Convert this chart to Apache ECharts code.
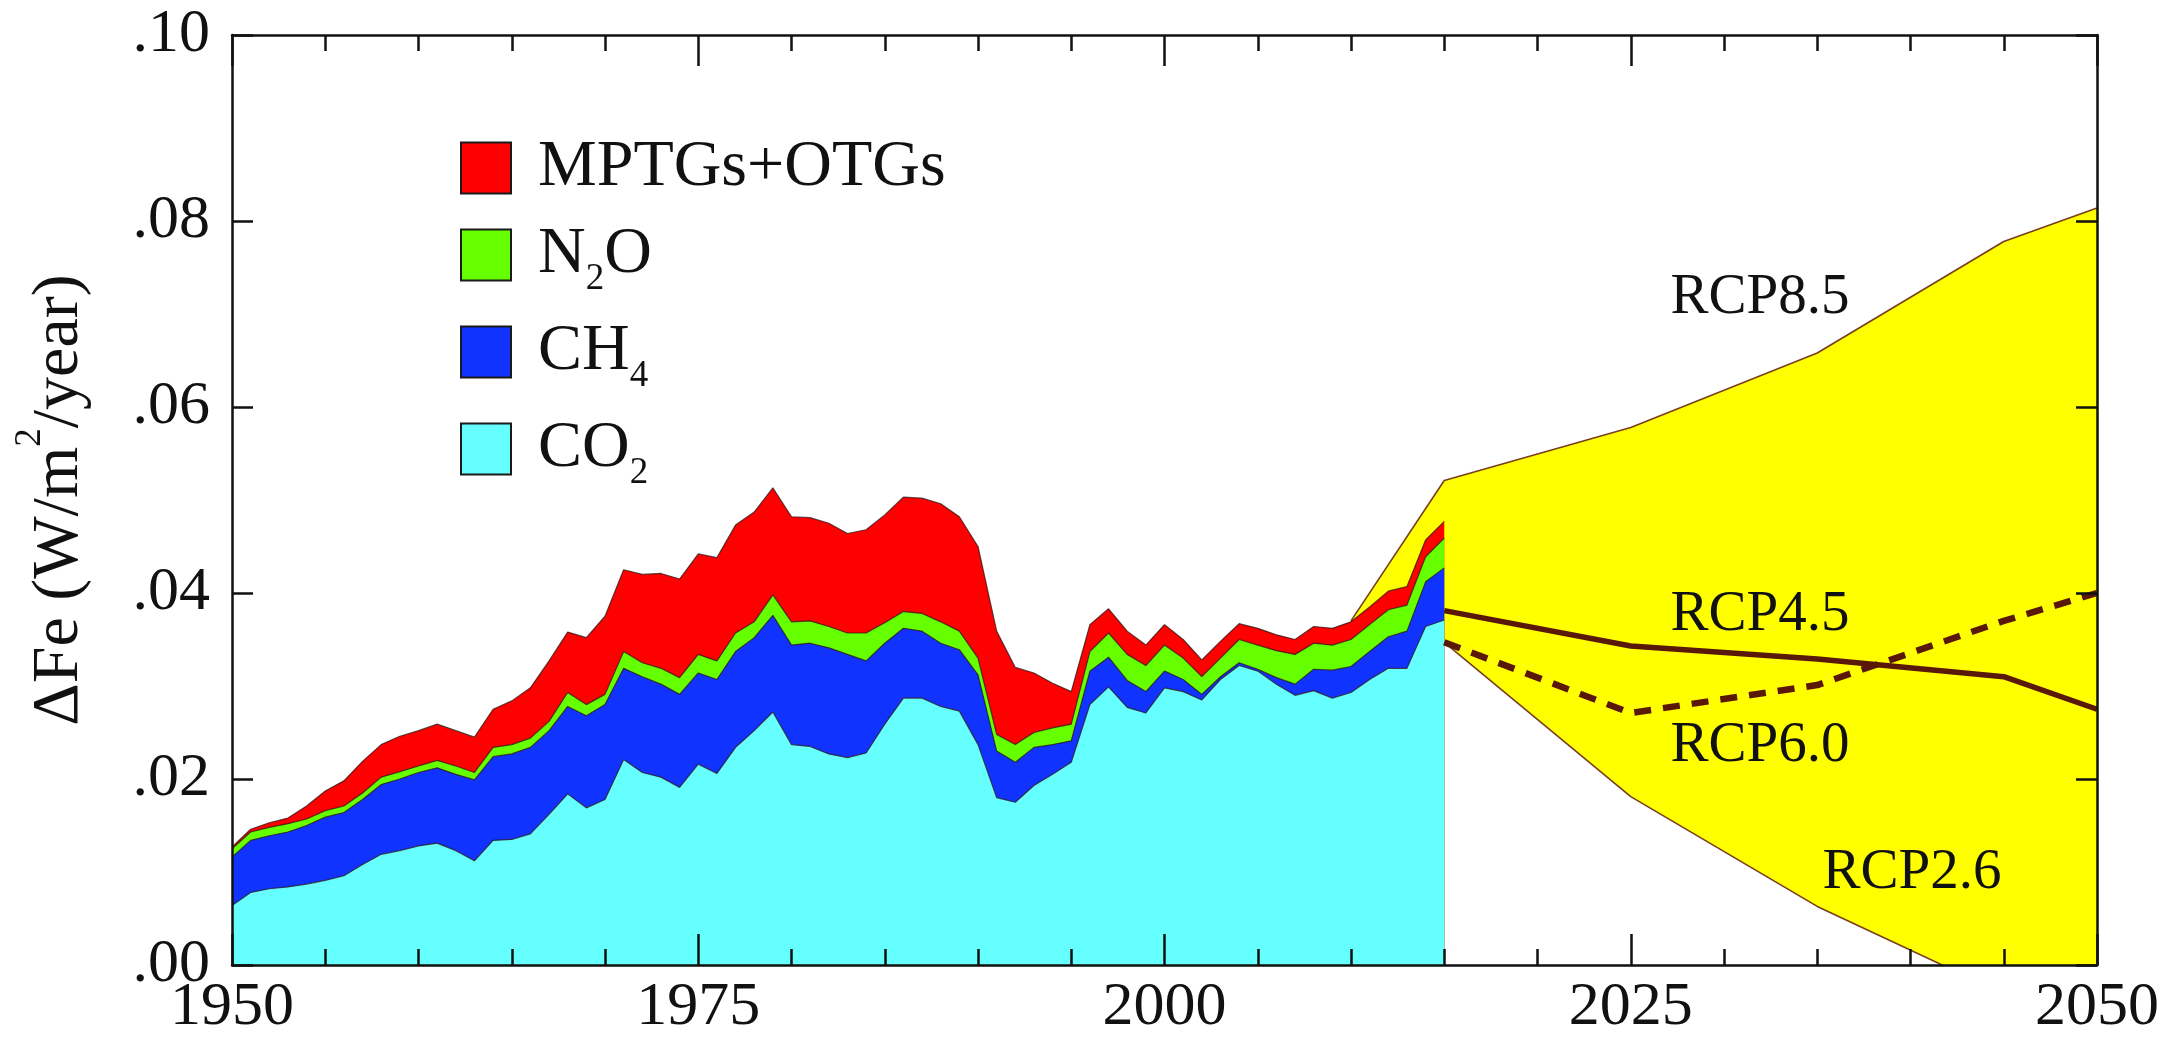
<!DOCTYPE html>
<html>
<head>
<meta charset="utf-8">
<script src="https://cdn.jsdelivr.net/npm/echarts@6/dist/echarts.min.js"></script>
<style>
  html, body { margin: 0; padding: 0; background: #ffffff; }
  #chart { width: 2177px; height: 1039px; }
</style>
</head>
<body>
<div id="chart"></div>
<script>
// ---- Data ----
const years = [1950,1951,1952,1953,1954,1955,1956,1957,1958,1959,
  1960,1961,1962,1963,1964,1965,1966,1967,1968,1969,
  1970,1971,1972,1973,1974,1975,1976,1977,1978,1979,
  1980,1981,1982,1983,1984,1985,1986,1987,1988,1989,
  1990,1991,1992,1993,1994,1995,1996,1997,1998,1999,
  2000,2001,2002,2003,2004,2005,2006,2007,2008,2009,
  2010,2011,2012,2013,2014,2015];

const co2 = [0.0064,0.0078,0.0082,0.0084,0.0087,0.0091,0.0096,0.0108,0.0119,0.0123,
  0.0128,0.0131,0.0123,0.0112,0.0134,0.0135,0.0141,0.0162,0.0184,0.0169,
  0.0178,0.0221,0.0207,0.0202,0.0191,0.0216,0.0206,0.0234,0.0252,0.0272,
  0.0237,0.0235,0.0227,0.0223,0.0228,0.0259,0.0287,0.0287,0.0278,0.0273,
  0.0237,0.0180,0.0175,0.0193,0.0205,0.0218,0.0280,0.0299,0.0277,0.0271,
  0.0298,0.0294,0.0285,0.0307,0.0322,0.0316,0.0302,0.0290,0.0295,0.0287,
  0.0293,0.0307,0.0319,0.0319,0.0364,0.0371];

const ch4 = [0.0052,0.0056,0.0057,0.0059,0.0063,0.0068,0.0068,0.0070,0.0075,0.0077,
  0.0079,0.0081,0.0082,0.0087,0.0090,0.0092,0.0093,0.0090,0.0094,0.0099,
  0.0102,0.0098,0.0103,0.0100,0.0100,0.0098,0.0101,0.0103,0.0100,0.0104,
  0.0107,0.0111,0.0114,0.0111,0.0099,0.0087,0.0075,0.0072,0.0068,0.0066,
  0.0075,0.0050,0.0043,0.0041,0.0032,0.0023,0.0036,0.0032,0.0029,0.0023,
  0.0018,0.0013,0.0006,0.0003,0.0003,0.0002,0.0007,0.0012,0.0023,0.0030,
  0.0028,0.0030,0.0034,0.0040,0.0048,0.0056];

const n2o = [0.0009,0.0009,0.0009,0.0009,0.0007,0.0007,0.0007,0.0007,0.0008,0.0008,
  0.0007,0.0008,0.0009,0.0008,0.0010,0.0010,0.0010,0.0010,0.0015,0.0012,
  0.0011,0.0018,0.0015,0.0017,0.0018,0.0020,0.0020,0.0020,0.0017,0.0022,
  0.0025,0.0024,0.0023,0.0023,0.0030,0.0022,0.0018,0.0019,0.0023,0.0020,
  0.0018,0.0018,0.0019,0.0016,0.0018,0.0018,0.0021,0.0026,0.0028,0.0028,
  0.0028,0.0023,0.0019,0.0020,0.0025,0.0026,0.0029,0.0032,0.0028,0.0027,
  0.0029,0.0029,0.0029,0.0028,0.0027,0.0032];

const mptgs = [0.0002,0.0003,0.0005,0.0006,0.0014,0.0021,0.0027,0.0034,0.0035,0.0038,
  0.0038,0.0039,0.0038,0.0038,0.0041,0.0047,0.0054,0.0065,0.0065,0.0072,
  0.0084,0.0088,0.0095,0.0102,0.0106,0.0108,0.0111,0.0116,0.0118,0.0115,
  0.0113,0.0111,0.0111,0.0107,0.0111,0.0116,0.0123,0.0124,0.0127,0.0123,
  0.0120,0.0111,0.0083,0.0064,0.0048,0.0035,0.0029,0.0026,0.0025,0.0022,
  0.0022,0.0020,0.0018,0.0018,0.0017,0.0018,0.0017,0.0016,0.0018,0.0018,
  0.0019,0.0019,0.0020,0.0020,0.0018,0.0018];

// RCP envelope (upper = RCP8.5, lower = RCP2.6)
const rcpYears = [2010, 2015, 2025, 2035, 2045, 2050];
const rcp85 = [0.0370, 0.0521, 0.0578, 0.0658, 0.0778, 0.0814];
const rcp26 = [0.0370, 0.0347, 0.0181, 0.0063, -0.0031, -0.0078];

// RCP4.5 and RCP6.0 lines
const rcpLineYears = [2015, 2025, 2035, 2045, 2050];
const rcp45 = [0.0381, 0.0343, 0.0329, 0.0310, 0.0275];
const rcp60 = [0.0347, 0.0271, 0.0301, 0.0370, 0.0400];

// Tick labels
const xTickLabels = ['1950', '1975', '2000', '2025', '2050'];
const yTickLabels = ['.00', '.02', '.04', '.06', '.08', '.10'];

// ---- Stacked totals built from the component arrays ----
const topCO2 = co2.slice();
const topCH4 = topCO2.map((v, i) => v + ch4[i]);
const topN2O = topCH4.map((v, i) => v + n2o[i]);
const topAll = topN2O.map((v, i) => v + mptgs[i]);

// ---- Chart ----
const FONT = "'Liberation Serif','Times New Roman',serif";
const INK = '#111111';
const BROWN = '#5a1808';
const EDGE = 'rgba(45,20,20,0.75)';

const colors = {
  'CO2': '#66ffff',
  'CH4': '#1133ff',
  'N2O': '#66ff00',
  'MPTGs+OTGs': '#ff0000'
};
const legendLabels = {
  'MPTGs+OTGs': '{m|MPTGs+OTGs}',
  'N2O': '{m|N}{sub|2}{m|O}',
  'CH4': '{m|CH}{sub|4}',
  'CO2': '{m|CO}{sub|2}'
};

function gasSeries(name, tops, z) {
  return {
    name: name,
    type: 'line',
    symbol: 'none',
    showSymbol: false,
    silent: true,
    z: z,
    data: years.map((y, i) => [y, tops[i]]),
    lineStyle: { color: EDGE, width: 1.2 },
    itemStyle: { color: colors[name] },
    areaStyle: { color: colors[name], opacity: 1, origin: 'start' }
  };
}

function axisCommon(extra) {
  return Object.assign({
    z: 10,
    splitLine: { show: false },
    axisLine: { show: true, onZero: false, lineStyle: { color: INK, width: 2.5 } }
  }, extra);
}

const chart = echarts.init(document.getElementById('chart'), null, { renderer: 'canvas' });

const option = {
  animation: false,
  backgroundColor: '#ffffff',
  textStyle: { fontFamily: FONT },
  grid: { left: 232, right: 80, top: 35, bottom: 71, containLabel: false },
  xAxis: [
    axisCommon({
      type: 'value', min: 1950, max: 2050, interval: 25, position: 'bottom',
      axisTick: { show: true, inside: true, length: 31, lineStyle: { color: INK, width: 2.5 } },
      minorTick: { show: true, splitNumber: 5, length: 16, lineStyle: { color: INK, width: 2.5 } },
      axisLabel: {
        show: true, fontSize: 62, fontFamily: FONT, color: INK, margin: 12,
        formatter: v => xTickLabels[Math.round((v - 1950) / 25)]
      }
    }),
    axisCommon({
      type: 'value', min: 1950, max: 2050, interval: 25, position: 'top',
      axisTick: { show: true, inside: true, length: 31, lineStyle: { color: INK, width: 2.5 } },
      minorTick: { show: true, splitNumber: 5, length: 16, lineStyle: { color: INK, width: 2.5 } },
      axisLabel: { show: false }
    })
  ],
  yAxis: [
    axisCommon({
      type: 'value', min: 0, max: 0.1, interval: 0.02, position: 'left',
      axisTick: { show: true, inside: true, length: 21, lineStyle: { color: INK, width: 2.5 } },
      axisLabel: {
        show: true, fontSize: 62, fontFamily: FONT, color: INK, margin: 22,
        formatter: v => yTickLabels[Math.round(v / 0.02)]
      },
      name: '{t|ΔFe (W/m}{sup|2}{t|/year)}',
      nameLocation: 'middle',
      nameRotate: 90,
      nameGap: 132,
      nameTextStyle: {
        fontSize: 66, fontFamily: FONT, color: INK, lineHeight: 80,
        rich: {
          t: { fontSize: 66, fontFamily: FONT, color: INK, lineHeight: 80 },
          sup: { fontSize: 37, fontFamily: FONT, color: INK, lineHeight: 80, height: 21, verticalAlign: 'top' }
        }
      }
    }),
    axisCommon({
      type: 'value', min: 0, max: 0.1, interval: 0.02, position: 'right',
      axisTick: { show: true, inside: true, length: 21, lineStyle: { color: INK, width: 2.5 } },
      axisLabel: { show: false }
    })
  ],
  legend: {
    orient: 'vertical',
    left: 455,
    top: 130,
    itemWidth: 50,
    itemHeight: 51,
    itemGap: 21,
    icon: 'rect',
    selectedMode: false,
    itemStyle: { borderColor: '#1a1a1a', borderWidth: 2 },
    textStyle: {
      fontSize: 66, fontFamily: FONT, color: INK, lineHeight: 51,
      padding: [0, 0, 0, 22],
      rich: {
        m: { fontSize: 66, fontFamily: FONT, color: INK, lineHeight: 51 },
        sub: { fontSize: 37, fontFamily: FONT, color: INK, lineHeight: 51, height: 2, verticalAlign: 'bottom' }
      }
    },
    formatter: name => legendLabels[name],
    data: ['MPTGs+OTGs', 'N2O', 'CH4', 'CO2'].map(n => ({ name: n, itemStyle: { color: colors[n] } }))
  },
  series: [
    {
      name: 'RCP envelope', type: 'custom', silent: true, z: 1,
      data: [[rcpYears[0], rcp85[0]]],
      renderItem: function (params, api) {
        const pts = [];
        for (let i = 0; i < rcpYears.length; i++) pts.push(api.coord([rcpYears[i], rcp85[i]]));
        for (let i = rcpYears.length - 1; i >= 0; i--) pts.push(api.coord([rcpYears[i], rcp26[i]]));
        const cs = params.coordSys;
        return {
          type: 'polygon',
          shape: { points: pts },
          style: { fill: '#ffff00', stroke: null },
          clipPath: { type: 'rect', shape: { x: cs.x, y: cs.y, width: cs.width, height: cs.height } }
        };
      }
    },
    {
      name: 'RCP8.5', type: 'line', symbol: 'none', showSymbol: false, silent: true, z: 2,
      data: rcpYears.map((y, i) => [y, rcp85[i]]),
      lineStyle: { color: '#7a3f1c', width: 1.6 }
    },
    {
      name: 'RCP2.6', type: 'line', symbol: 'none', showSymbol: false, silent: true, z: 2,
      data: rcpYears.map((y, i) => [y, rcp26[i]]),
      lineStyle: { color: '#7a3f1c', width: 1.6 }
    },
    gasSeries('MPTGs+OTGs', topAll, 3),
    gasSeries('N2O', topN2O, 4),
    gasSeries('CH4', topCH4, 5),
    gasSeries('CO2', topCO2, 6),
    {
      name: 'RCP4.5', type: 'line', symbol: 'none', showSymbol: false, silent: true, z: 7,
      data: rcpLineYears.map((y, i) => [y, rcp45[i]]),
      lineStyle: { color: BROWN, width: 5.5 }
    },
    {
      name: 'RCP6.0', type: 'line', symbol: 'none', showSymbol: false, silent: true, z: 7,
      data: rcpLineYears.map((y, i) => [y, rcp60[i]]),
      lineStyle: { color: BROWN, width: 6.5, type: [17, 12] }
    }
  ],
  graphic: [
    { type: 'text', x: 1760, y: 298, z: 100, style: { text: 'RCP8.5', fontSize: 57, fontFamily: FONT, fill: INK, align: 'center', verticalAlign: 'middle' } },
    { type: 'text', x: 1760, y: 615, z: 100, style: { text: 'RCP4.5', fontSize: 57, fontFamily: FONT, fill: INK, align: 'center', verticalAlign: 'middle' } },
    { type: 'text', x: 1760, y: 746, z: 100, style: { text: 'RCP6.0', fontSize: 57, fontFamily: FONT, fill: INK, align: 'center', verticalAlign: 'middle' } },
    { type: 'text', x: 1912, y: 873, z: 100, style: { text: 'RCP2.6', fontSize: 57, fontFamily: FONT, fill: INK, align: 'center', verticalAlign: 'middle' } }
  ]
};

chart.setOption(option);
</script>
</body>
</html>
